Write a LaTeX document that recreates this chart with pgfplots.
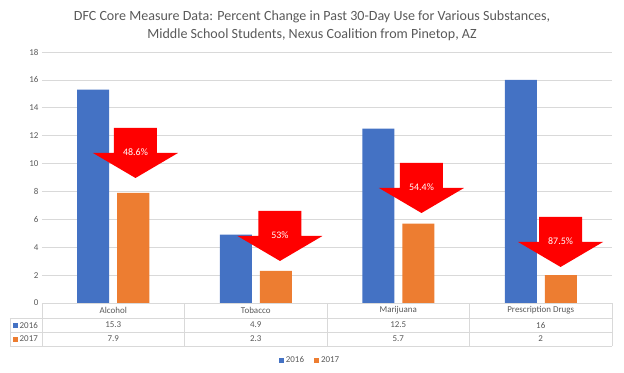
\documentclass[border=0pt]{standalone}
\usepackage{pgfplots}
\pgfplotsset{compat=1.18}
\usepackage{fontspec}
\setmainfont{Carlito}
\usetikzlibrary{calc}
\definecolor{cblue}{HTML}{4472C4}
\definecolor{corange}{HTML}{ED7D31}
\definecolor{txtgray}{HTML}{595959}
\definecolor{gridgray}{HTML}{D9D9D9}
\newcommand{\downarrowshape}[3]{%
  \fill[red] (axis cs:#1,#2) ++(-21.5bp,0bp) -- ++(43bp,0bp) -- ++(0bp,-25bp) -- ++(21bp,0bp) -- ++(-42.5bp,-25bp) -- ++(-42.5bp,25bp) -- ++(21bp,0bp) -- cycle;
  \node[text=white, font=\fontsize{10}{11}\selectfont] at ($(axis cs:#1,#2)+(0bp,-24bp)$) {#3};
}
\newcommand{\tcell}[3]{\node[text=txtgray, font=\fontsize{9}{10}\selectfont] at (axis cs:#1,#2) {#3};}
\begin{document}
\begin{tikzpicture}
\begin{axis}[name=ax, scale only axis, width=570bp, height=251bp,
  xmin=-0.5, xmax=3.5, ymin=0, ymax=18, ytick={0,2,...,18},
  xtick=\empty, axis line style={draw=none}, tick style={draw=none},
  ymajorgrids, major grid style={gridgray, line width=0.6pt},
  yticklabel style={font=\fontsize{9}{10}\selectfont, text=txtgray},
  /pgf/number format/assume math mode=true,
  ybar, bar width=32bp, clip=false,
  legend style={at={(axis cs:1.381,-4.09)}, anchor=center, draw=none, fill=none,
    legend columns=2, font=\fontsize{9}{10}\selectfont, text=txtgray,
    /tikz/every even column/.append style={column sep=8bp}},
]
\addplot[fill=cblue, draw=none, bar shift=-20bp,
  legend image code/.code={\fill[cblue] (0bp,-2.5bp) rectangle (5bp,2.5bp);}]
  coordinates {(0,15.3) (1,4.9) (2,12.5) (3,16)};
\addplot[fill=corange, draw=none, bar shift=20bp,
  legend image code/.code={\fill[corange] (0bp,-2.5bp) rectangle (5bp,2.5bp);}]
  coordinates {(0,7.9) (1,2.3) (2,5.7) (3,2)};
\legend{2016,2017}

% arrows
\downarrowshape{0.156}{12.55}{48.6\%}
\downarrowshape{1.170}{6.60}{53\%}
\downarrowshape{2.163}{10.04}{54.4\%}
\downarrowshape{3.139}{6.17}{87.5\%}

% data table
\draw[gridgray, line width=0.6pt] (axis cs:-0.5,0) -- (axis cs:3.5,0);
\draw[gridgray, line width=0.6pt] (axis cs:-0.7246,-1.076) -- (axis cs:3.5,-1.076);
\draw[gridgray, line width=0.6pt] (axis cs:-0.7246,-2.08) -- (axis cs:3.5,-2.08);
\draw[gridgray, line width=0.6pt] (axis cs:-0.7246,-3.085) -- (axis cs:3.5,-3.085);
\draw[gridgray, line width=0.6pt] (axis cs:-0.5,0) -- (axis cs:-0.5,-3.085);
\draw[gridgray, line width=0.6pt] (axis cs:0.5,0) -- (axis cs:0.5,-3.085);
\draw[gridgray, line width=0.6pt] (axis cs:1.5,0) -- (axis cs:1.5,-3.085);
\draw[gridgray, line width=0.6pt] (axis cs:2.5,0) -- (axis cs:2.5,-3.085);
\draw[gridgray, line width=0.6pt] (axis cs:3.5,0) -- (axis cs:3.5,-3.085);
\draw[gridgray, line width=0.6pt] (axis cs:-0.7246,-1.076) -- (axis cs:-0.7246,-3.085);
\tcell{0}{-0.54}{Alcohol}
\tcell{1}{-0.54}{Tobacco}
\tcell{2}{-0.54}{Marijuana}
\tcell{3}{-0.54}{Prescription Drugs}
\tcell{0}{-1.58}{15.3}
\tcell{1}{-1.58}{4.9}
\tcell{2}{-1.58}{12.5}
\tcell{3}{-1.58}{16}
\tcell{0}{-2.58}{7.9}
\tcell{1}{-2.58}{2.3}
\tcell{2}{-2.58}{5.7}
\tcell{3}{-2.58}{2}
\node[anchor=west, text=txtgray, font=\fontsize{9}{10}\selectfont, inner sep=0pt] at ($(axis cs:-0.7246,-1.58)+(3bp,0bp)$) {\textcolor{cblue}{\rule{5bp}{5bp}}\,2016};
\node[anchor=west, text=txtgray, font=\fontsize{9}{10}\selectfont, inner sep=0pt] at ($(axis cs:-0.7246,-2.58)+(3bp,0bp)$) {\textcolor{corange}{\rule{5bp}{5bp}}\,2017};

% title
\node[text=txtgray, align=center, font=\fontsize{14.1}{18}\selectfont] at (axis cs:1.395,19.87)
  {DFC Core Measure Data: Percent Change in Past 30-Day Use for Various Substances,\\Middle School Students, Nexus Coalition from Pinetop, AZ};
\end{axis}
\pgfresetboundingbox
\path[use as bounding box] ($(ax.south west)+(-42bp,-70bp)$) rectangle ($(ax.north east)+(12bp,52bp)$);
\end{tikzpicture}
\end{document}
